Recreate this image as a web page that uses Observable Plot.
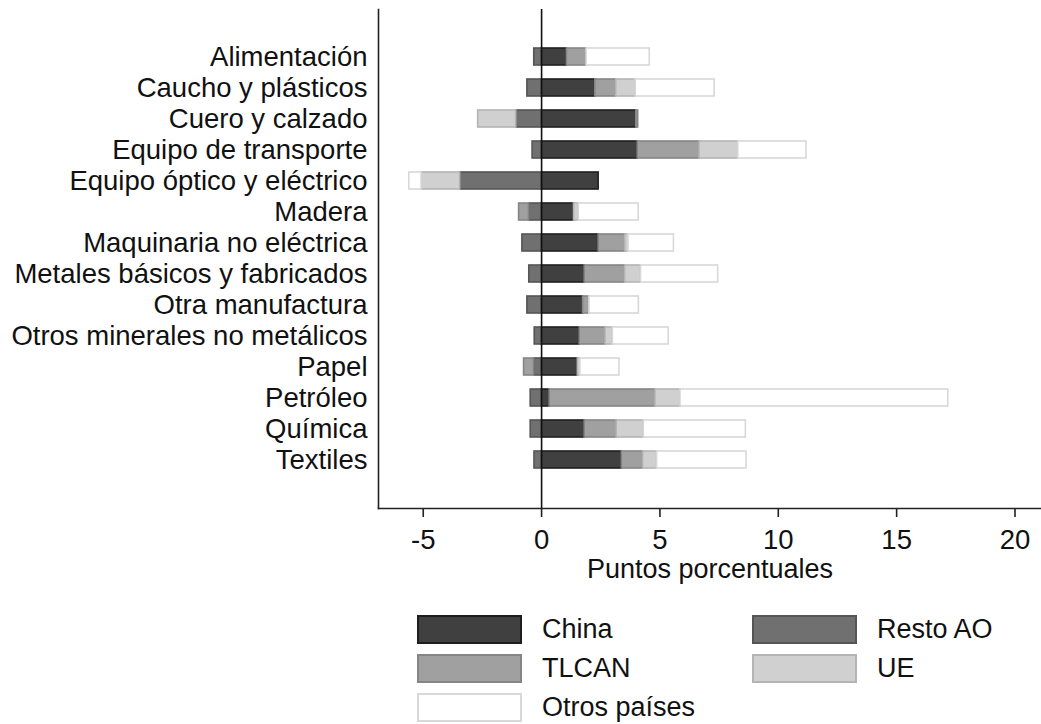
<!DOCTYPE html>
<html>
<head>
<meta charset="utf-8">
<script src="https://cdn.jsdelivr.net/npm/d3@7"></script>
<script src="https://cdn.jsdelivr.net/npm/@observablehq/plot@0.6"></script>
<style>
  html, body { margin: 0; padding: 0; background: #fff; }
  body { font-family: "Liberation Sans", Arial, sans-serif; }
  #wrap { position: relative; width: 1041px; height: 724px; overflow: hidden; }
  #legend { position: relative; width: 1041px; height: 134px; }
  .item { position: absolute; display: flex; align-items: center; font-size: 27px; color: #111; }
  .sw { width: 101px; height: 25px; border-width: 2px; border-style: solid; margin-right: 20px; }
</style>
</head>
<body>
<div id="wrap"><div id="chart"></div><div id="legend"></div></div>
<script>
const categories = [
  "Alimentación", "Caucho y plásticos", "Cuero y calzado", "Equipo de transporte",
  "Equipo óptico y eléctrico", "Madera", "Maquinaria no eléctrica",
  "Metales básicos y fabricados", "Otra manufactura", "Otros minerales no metálicos",
  "Papel", "Petróleo", "Química", "Textiles"
];
const seriesNames = ["China", "Resto AO", "TLCAN", "UE", "Otros países"];
const china   = [1.07, 2.27, 4.00, 4.06, 2.41, 1.37, 2.41, 1.82, 1.75, 1.61, 1.53, 0.34, 1.82, 3.39];
const restoAO = [-0.31, -0.60, -1.07, -0.38, -3.44, -0.53, -0.81, -0.52, -0.60, -0.29, -0.32, -0.46, -0.46, -0.30];
const tlcan   = [0.83, 0.88, 0.08, 2.61, 0, -0.42, 1.12, 1.71, 0.27, 1.09, -0.42, 4.47, 1.35, 0.90];
const ue      = [0, 0.83, -1.61, 1.64, -1.63, 0.20, 0.14, 0.67, 0, 0.31, 0.11, 1.06, 1.15, 0.59];
const otros   = [2.67, 3.33, 0, 2.88, -0.52, 2.53, 1.92, 3.26, 2.09, 2.36, 1.65, 11.31, 4.31, 3.78];
const xTicks = [-5, 0, 5, 10, 15, 20];
const xDomain = [-6.89, 21.12];
const axisTitle = "Puntos porcentuales";

const fills   = {"China": "#404040", "Resto AO": "#707070", "TLCAN": "#a0a0a0", "UE": "#d0d0d0", "Otros países": "#ffffff"};
const strokes = {"China": "#1e1e1e", "Resto AO": "#555555", "TLCAN": "#858585", "UE": "#b4b4b4", "Otros países": "#d8d8d8"};

const seriesValues = [china, restoAO, tlcan, ue, otros];
const data = categories.flatMap((c, i) =>
  seriesNames.map((s, j) => ({category: c, serie: s, value: seriesValues[j][i]}))
).filter(d => d.value !== 0);

const font = "'Liberation Sans', Arial, sans-serif";

const chart = Plot.plot({
  width: 1041,
  height: 590,
  marginLeft: 378,
  marginRight: 0,
  marginTop: 9,
  marginBottom: 82,
  style: {fontFamily: font, fontSize: "27.5px", color: "#111", background: "#fff", overflow: "visible"},
  x: {domain: xDomain},
  y: {domain: categories, paddingInner: 0.44, paddingOuter: 1.08},
  color: {type: "identity"},
  marks: [
    Plot.barX(data, Plot.stackX({
      y: "category", x: "value", z: "serie", order: seriesNames,
      fill: d => fills[d.serie], stroke: d => strokes[d.serie], strokeWidth: 1.6
    })),
    Plot.ruleX([0], {stroke: "#111", strokeWidth: 1.6}),
    Plot.axisY({tickSize: 0, tickPadding: 11, label: null, fontSize: 27.5}),
    Plot.axisX({ticks: xTicks, tickSize: 9, tickPadding: 12, tickFormat: d => String(d), label: null, strokeWidth: 1.6, stroke: "#222", fontSize: 27.5}),
    Plot.text([axisTitle], {text: d => d, frameAnchor: "bottom", dy: 61, lineAnchor: "middle", fontSize: 27, fill: "#111"}),
    Plot.frame({anchor: "left", stroke: "#222", strokeWidth: 1.6}),
    Plot.frame({anchor: "bottom", stroke: "#222", strokeWidth: 1.6})
  ]
});
document.getElementById("chart").appendChild(chart);

// Legend
const legendPos = [
  {name: "China", left: 417, top: 24},
  {name: "Resto AO", left: 752, top: 24},
  {name: "TLCAN", left: 417, top: 63},
  {name: "UE", left: 752, top: 63},
  {name: "Otros países", left: 417, top: 102}
];
const legend = document.getElementById("legend");
for (const p of legendPos) {
  const it = document.createElement("div");
  it.className = "item";
  it.style.left = p.left + "px";
  it.style.top = p.top + "px";
  const sw = document.createElement("div");
  sw.className = "sw";
  sw.style.background = fills[p.name];
  sw.style.borderColor = strokes[p.name];
  const tx = document.createElement("span");
  tx.textContent = p.name;
  it.appendChild(sw);
  it.appendChild(tx);
  legend.appendChild(it);
}
</script>
</body>
</html>
